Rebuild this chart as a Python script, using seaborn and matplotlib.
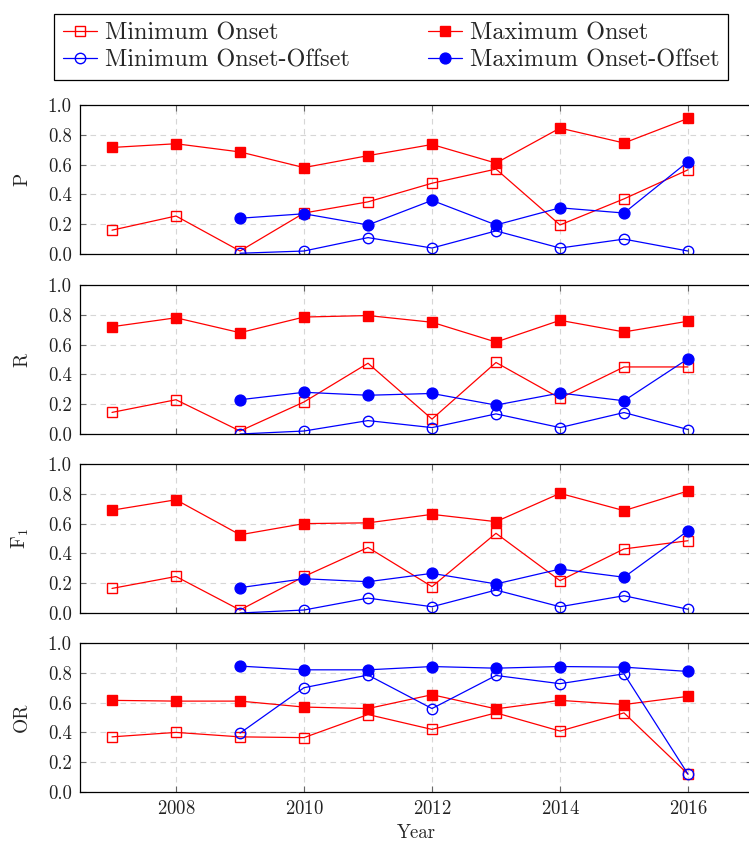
import matplotlib
matplotlib.use("Agg")
import matplotlib.pyplot as plt
import seaborn as sns

# years on the x axis
years = [2007, 2008, 2009, 2010, 2011, 2012, 2013, 2014, 2015, 2016]
years_oo = [2009, 2010, 2011, 2012, 2013, 2014, 2015, 2016]

metrics = ["P", "R", "F1", "OR"]
ylabels = ["P", "R", r"$\mathrm{F}_1$", "OR"]

# onset results (2007-2016)
min_onset_p = [0.16, 0.255, 0.02, 0.275, 0.35, 0.475, 0.57, 0.195, 0.37, 0.565]
max_onset_p = [0.715, 0.74, 0.685, 0.58, 0.66, 0.735, 0.61, 0.845, 0.745, 0.91]
min_onset_r = [0.145, 0.23, 0.02, 0.215, 0.475, 0.10, 0.48, 0.24, 0.45, 0.45]
max_onset_r = [0.72, 0.78, 0.68, 0.785, 0.795, 0.75, 0.617, 0.763, 0.685, 0.757]
min_onset_f = [0.165, 0.245, 0.02, 0.245, 0.44, 0.177, 0.535, 0.217, 0.43, 0.485]
max_onset_f = [0.69, 0.76, 0.525, 0.60, 0.605, 0.662, 0.613, 0.803, 0.687, 0.819]
min_onset_or = [0.37, 0.40, 0.37, 0.365, 0.52, 0.42, 0.531, 0.409, 0.531, 0.12]
max_onset_or = [0.615, 0.61, 0.61, 0.57, 0.56, 0.653, 0.558, 0.615, 0.587, 0.642]

# onset-offset results (2009-2016)
min_oo_p = [0.005, 0.02, 0.11, 0.04, 0.155, 0.04, 0.10, 0.02]
max_oo_p = [0.24, 0.27, 0.195, 0.36, 0.195, 0.31, 0.275, 0.62]
min_oo_r = [0.0, 0.02, 0.09, 0.043, 0.135, 0.043, 0.144, 0.03]
max_oo_r = [0.23, 0.28, 0.26, 0.272, 0.194, 0.275, 0.223, 0.505]
min_oo_f = [0.0, 0.02, 0.10, 0.042, 0.154, 0.042, 0.116, 0.025]
max_oo_f = [0.17, 0.23, 0.21, 0.266, 0.195, 0.295, 0.24, 0.552]
min_oo_or = [0.395, 0.70, 0.785, 0.56, 0.782, 0.727, 0.793, 0.12]
max_oo_or = [0.845, 0.82, 0.82, 0.842, 0.831, 0.842, 0.838, 0.809]

panels = {
    "P": (min_onset_p, max_onset_p, min_oo_p, max_oo_p),
    "R": (min_onset_r, max_onset_r, min_oo_r, max_oo_r),
    "F1": (min_onset_f, max_onset_f, min_oo_f, max_oo_f),
    "OR": (min_onset_or, max_onset_or, min_oo_or, max_oo_or),
}

series_labels = ["Minimum Onset", "Maximum Onset", "Minimum Onset-Offset", "Maximum Onset-Offset"]
RED = "#ff0000"
BLUE = "#0000ff"

sns.set_theme(style="ticks")
plt.rcParams["font.family"] = ["cmr10", "DejaVu Serif"]
plt.rcParams["mathtext.fontset"] = "cm"
plt.rcParams["axes.formatter.use_mathtext"] = True
plt.rcParams["axes.unicode_minus"] = False

fig = plt.figure(figsize=(7.49, 8.44), dpi=100)

left = 80 / 749
width = 672 / 749
tops = [105, 285, 464, 643]
height_px = 149

axes = []
for i, metric in enumerate(metrics):
    bottom = (844 - tops[i] - height_px) / 844
    ax = fig.add_axes([left, bottom, width, height_px / 844])
    axes.append(ax)
    min_on, max_on, min_oo, max_oo = panels[metric]

    common = dict(ax=ax, linewidth=0.9, legend=False)
    sns.lineplot(x=years, y=min_on, color=RED, marker="s", markersize=7,
                 markerfacecolor="none", markeredgecolor=RED, markeredgewidth=1.0,
                 label=series_labels[0], **common)
    sns.lineplot(x=years, y=max_on, color=RED, marker="s", markersize=7.2,
                 markerfacecolor=RED, markeredgecolor=RED, markeredgewidth=1.0,
                 label=series_labels[1], **common)
    sns.lineplot(x=years_oo, y=min_oo, color=BLUE, marker="o", markersize=7.5,
                 markerfacecolor="none", markeredgecolor=BLUE, markeredgewidth=1.0,
                 label=series_labels[2], **common)
    sns.lineplot(x=years_oo, y=max_oo, color=BLUE, marker="o", markersize=7.8,
                 markerfacecolor=BLUE, markeredgecolor=BLUE, markeredgewidth=1.0,
                 label=series_labels[3], **common)

    ax.set_xlim(2006.5, 2017)
    ax.set_ylim(0, 1)
    ax.set_xticks([2008, 2010, 2012, 2014, 2016])
    ax.set_yticks([0.0, 0.2, 0.4, 0.6, 0.8, 1.0])
    ax.set_yticklabels([f"{v:.1f}" for v in [0.0, 0.2, 0.4, 0.6, 0.8, 1.0]])
    ax.grid(True, color="#d6d6d6", linestyle=(0, (5, 4)), linewidth=0.8)
    ax.tick_params(direction="in", top=True, right=True, length=4,
                   width=0.8, color="#666666", labelsize=13.5, pad=6)
    for s in ax.spines.values():
        s.set_linewidth(0.9)
        s.set_color("black")
    ax.set_ylabel(ylabels[i], fontsize=14, labelpad=12)
    ax.set_xlabel("")
    if i < 3:
        ax.tick_params(labelbottom=False)
    for lab in ax.get_yticklabels():
        lab.set_color("#222222")

axes[-1].set_xlabel("Year", fontsize=13.5, labelpad=4)
for lab in axes[-1].get_xticklabels():
    lab.set_color("#222222")

handles, labels = axes[0].get_legend_handles_labels()
order = [0, 2, 1, 3]
leg = fig.legend([handles[k] for k in order], [labels[k] for k in order],
                 loc="upper left", bbox_to_anchor=(54 / 749, 1 - 14 / 844),
                 ncol=2, frameon=True, fancybox=False, edgecolor="black",
                 fontsize=17.5, handlelength=1.4, columnspacing=3.2,
                 borderaxespad=0, borderpad=0.35, labelspacing=0.2,
                 handletextpad=0.35)
leg.get_frame().set_linewidth(0.9)
leg.get_frame().set_alpha(1)

fig.savefig("out.png", dpi=100)
